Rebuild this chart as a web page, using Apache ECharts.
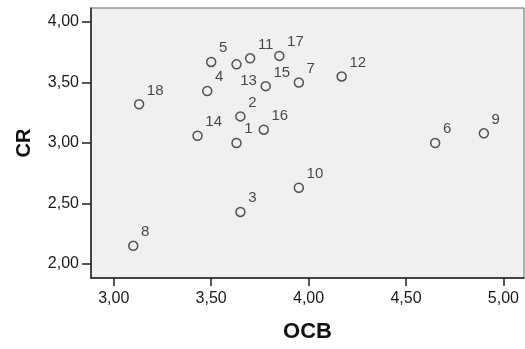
<!DOCTYPE html>
<html>
<head>
<meta charset="utf-8">
<script src="https://cdn.jsdelivr.net/npm/echarts@6/dist/echarts.min.js"></script>
<style>
html,body{margin:0;padding:0;background:#fff;}
#c{width:525px;height:349px;}
</style>
</head>
<body>
<div id="c"></div>
<script>
// Case ids, OCB (x) and CR (y) values
const caseIds = ['1','2','3','4','5','6','7','8','9','10','11','12','13','14','15','16','17','18'];
const ocbValues = [3.63, 3.65, 3.65, 3.48, 3.50, 4.65, 3.95, 3.10, 4.90, 3.95, 3.70, 4.17, 3.63, 3.43, 3.78, 3.77, 3.85, 3.13];
const crValues  = [3.00, 3.22, 2.43, 3.43, 3.67, 3.00, 3.50, 2.15, 3.08, 2.63, 3.70, 3.55, 3.65, 3.06, 3.47, 3.11, 3.72, 3.32];
const xTicks = [3.0, 3.5, 4.0, 4.5, 5.0];
const yTicks = [2.0, 2.5, 3.0, 3.5, 4.0];
const xTitle = 'OCB';
const yTitle = 'CR';

// label placement (styling only)
const labelsBelow = ['13'];

const fmt = v => v.toFixed(2).replace('.', ',');

const data = caseIds.map((id, i) => {
  const item = { value: [ocbValues[i], crValues[i]], name: id };
  if (labelsBelow.indexOf(id) >= 0) {
    item.label = { position: [9, 14], verticalAlign: 'top', align: 'left' };
  }
  return item;
});

const chart = echarts.init(document.getElementById('c'), null, { renderer: 'canvas' });
const axisFont = { fontFamily: 'Liberation Sans', fontSize: 16, color: '#1a1a1a' };
chart.setOption({
  animation: false,
  backgroundColor: '#fff',
  grid: { left: 91, right: 1, top: 8, bottom: 71, show: true, backgroundColor: '#f0f0f0', borderColor: '#666', borderWidth: 1 },
  xAxis: {
    type: 'value', min: 2.883, max: 5.106,
    name: xTitle, nameLocation: 'middle', nameGap: 43,
    nameTextStyle: { fontFamily: 'Liberation Sans', fontWeight: 'bold', fontSize: 22, color: '#111' },
    axisLine: { show: true, onZero: false, lineStyle: { color: '#222', width: 1.5 } },
    axisTick: { show: true, length: 8, customValues: xTicks, lineStyle: { color: '#222', width: 1.5 } },
    axisLabel: Object.assign({ margin: 13, customValues: xTicks, formatter: v => fmt(v) }, axisFont),
    splitLine: { show: false }
  },
  yAxis: {
    type: 'value', min: 1.884, max: 4.116,
    name: yTitle, nameLocation: 'middle', nameGap: 57, nameRotate: 90,
    nameTextStyle: { fontFamily: 'Liberation Sans', fontWeight: 'bold', fontSize: 20, color: '#111' },
    axisLine: { show: true, onZero: false, lineStyle: { color: '#222', width: 1.5 } },
    axisTick: { show: true, length: 9, customValues: yTicks, lineStyle: { color: '#222', width: 1.5 } },
    axisLabel: Object.assign({ margin: 12, customValues: yTicks, formatter: v => fmt(v) }, axisFont),
    splitLine: { show: false }
  },
  series: [{
    type: 'scatter',
    symbol: 'circle',
    symbolSize: 9,
    itemStyle: { color: 'rgba(0,0,0,0)', borderColor: '#2a2a2a', borderWidth: 1.5 },
    label: {
      show: true,
      formatter: p => p.name,
      position: [13, -1],
      align: 'left',
      verticalAlign: 'bottom',
      fontFamily: 'Liberation Sans',
      fontSize: 15,
      color: '#1a1a1a'
    },
    labelLayout: { hideOverlap: false },
    data: data
  }]
});
</script>
</body>
</html>
